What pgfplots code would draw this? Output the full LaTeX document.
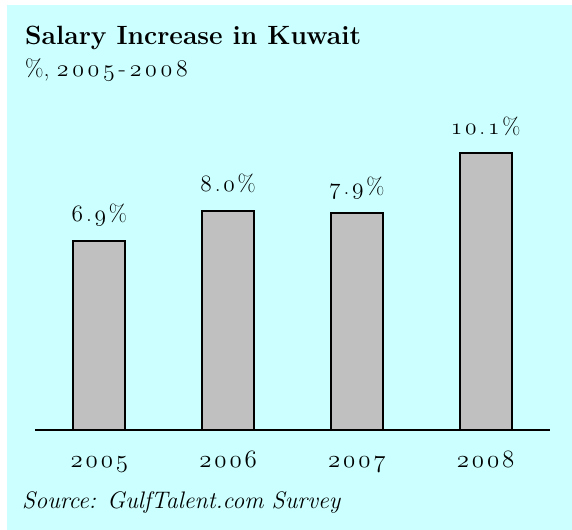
\RequirePackage{fix-cm}
\documentclass[border=0pt]{standalone}
\usepackage{pgfplots}
\pgfplotsset{compat=1.18}
\definecolor{bgc}{RGB}{204,255,255}
\definecolor{barc}{RGB}{192,192,192}
\newcommand\tk{\kern.12em}
\newcommand\tK{\kern.16em}
\newcommand\osn[1]{{\usefont{OML}{cmm}{m}{it}#1}}
\begin{document}
\begin{tikzpicture}[x=1bp,y=1bp]
\fill[white] (0,0) rectangle (572,530);
\fill[bgc] (7,0) rectangle (572,525);
\node[anchor=base west,inner sep=0] at (25,485) {\fontsize{26.5}{30}\selectfont\bfseries Salary Increase in Kuwait};
\node[anchor=base west,inner sep=0] at (25,453) {\fontsize{24}{28}\selectfont\%,\ \osn{2\tK0\tK0\tK5}\tK-\tK\osn{2\tK0\tK0\tK8}};
\node[anchor=base west,inner sep=0] at (22,21) {\fontsize{24}{28}\selectfont\itshape Source: GulfTalent.com Survey};
\begin{axis}[
  at={(35bp,100bp)}, anchor=south west,
  scale only axis, width=515bp, height=329bp,
  xmin=-0.5, xmax=3.5, ymin=0, ymax=12,
  axis x line*=bottom, axis y line=none,
  x axis line style={line width=1.6bp, black},
  xtick={0,1,2,3}, major tick length=0pt, ytick=\empty,
  xticklabels={\osn{2\tk0\tk0\tk5},\osn{2\tk0\tk0\tk6},\osn{2\tk0\tk0\tk7},\osn{2\tk0\tk0\tk8}},
  xticklabel style={anchor=base, yshift=-38bp, font=\fontsize{25}{28}\selectfont},
  ybar, bar width=52bp, clip=false,
  nodes near coords, point meta=explicit symbolic,
  nodes near coords align={center},
  every node near coord/.append style={font=\fontsize{23.5}{27}\selectfont, anchor=base, yshift=19bp, inner sep=0pt},
]
\addplot[fill=barc, draw=black, line width=1.8bp] coordinates {
  (0,6.9) [\osn{6}\tk.\tk\osn{9}\tk\%]
  (1,8.0) [\osn{8}\tk.\tk\osn{0}\tk\%]
  (2,7.9) [\osn{7}\tk.\tk\osn{9}\tk\%]
  (3,10.1) [\osn{1\tk0}\tk.\tk\osn{1}\tk\%]
};
\end{axis}
\end{tikzpicture}
\end{document}
